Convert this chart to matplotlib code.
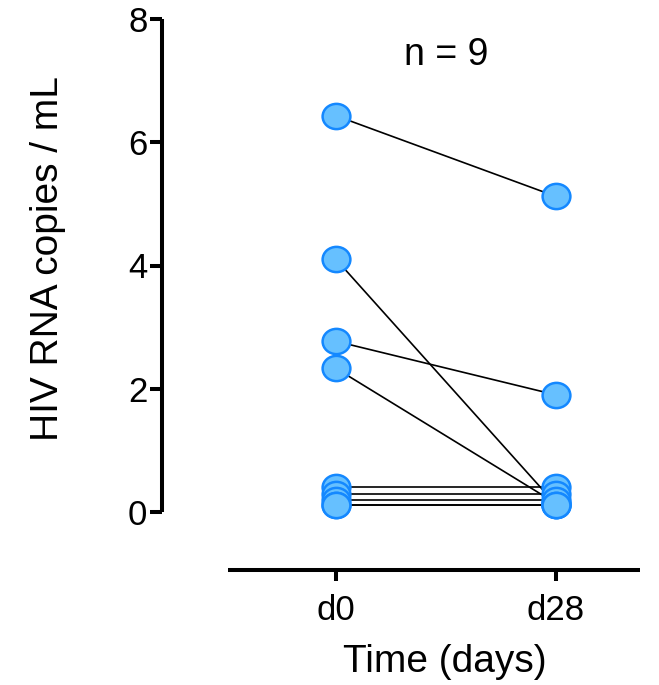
import matplotlib
matplotlib.use("Agg")
import matplotlib.pyplot as plt
from matplotlib.path import Path
from matplotlib.transforms import Affine2D

plt.rcParams['font.family'] = ['Liberation Sans', 'DejaVu Sans']

# Data
time_labels = ["d0", "d28"]
d0_values = [6.43, 4.10, 2.77, 2.33, 0.40, 0.30, 0.20, 0.11, 0.11]
d28_values = [5.12, 0.12, 1.90, 0.14, 0.40, 0.30, 0.20, 0.11, 0.11]
y_ticks = [0, 2, 4, 6, 8]
annotation = "n = 9"
x_label = "Time (days)"
y_label = "HIV RNA copies / mL"

W, H = 659, 685
fig = plt.figure(figsize=(W / 100, H / 100), dpi=100)
left_px, right_px, top_px, bottom_px = 162, 640, 19, 570
ax = fig.add_axes([left_px / W, 1 - bottom_px / H, (right_px - left_px) / W, (bottom_px - top_px) / H])

ellipse_marker = Path.unit_circle().transformed(Affine2D().scale(1.1, 1.0))

xs = [0, 1]
for a, b in zip(d0_values, d28_values):
    ax.plot(xs, [a, b], color="black", lw=1.2, zorder=2, solid_capstyle="butt")
for i, vals in enumerate([d0_values, d28_values]):
    ax.plot([xs[i]] * len(vals), vals, linestyle="none", marker=ellipse_marker, markersize=20,
            markerfacecolor="#66c0ff", markeredgecolor="#1488ff", markeredgewidth=1.8,
            zorder=3, clip_on=False)

# Scales
px_per_unit_y = (512 - 19) / 8
ax.set_ylim(-(bottom_px - 512) / px_per_unit_y, 8)
px_per_unit_x = 556 - 336
ax.set_xlim((left_px - 336) / px_per_unit_x, (right_px - 336) / px_per_unit_x)

for s in ["top", "right"]:
    ax.spines[s].set_visible(False)
ax.spines["left"].set_bounds(0, 8)
ax.spines["bottom"].set_bounds((228 - 336) / px_per_unit_x, (right_px - 336) / px_per_unit_x)
for s in ["left", "bottom"]:
    ax.spines[s].set_linewidth(2.9)
    ax.spines[s].set_capstyle("butt")

ax.set_yticks(y_ticks)
ax.set_yticklabels([str(t) for t in y_ticks])
ax.set_xticks(xs)
ax.set_xticklabels(time_labels)
ax.tick_params(axis="y", length=8.5, width=2.9, labelsize=25, pad=2)
ax.tick_params(axis="x", length=8, width=2.9, labelsize=25, pad=9)

ax.set_xlabel(x_label, fontsize=28)
ax.set_ylabel(y_label, fontsize=28)
ax.xaxis.set_label_coords(0.592, -0.135)
ax.yaxis.set_label_coords(-0.201, 0.565)

ax.text(0.5, 7.42, annotation, fontsize=27, ha="center", va="center")

fig.savefig("out.png", dpi=100)
